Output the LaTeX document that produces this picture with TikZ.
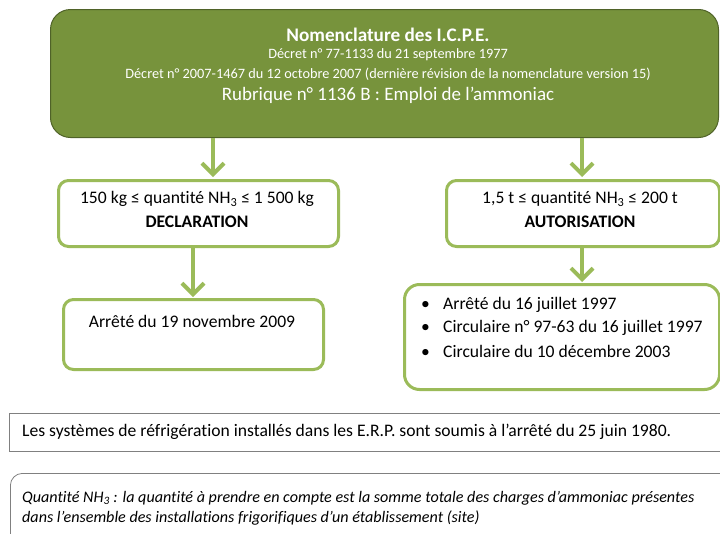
\documentclass[tikz,border=0pt]{standalone}
\usepackage{fontspec}
\setmainfont[Ligatures=NoCommon]{Carlito}
\usetikzlibrary{arrows.meta}
\definecolor{olive}{HTML}{77933C}
\definecolor{olivedark}{HTML}{4F6228}
\definecolor{lgreen}{HTML}{9BBB59}
\definecolor{greyb}{HTML}{808080}
\tikzset{
  topbox/.style={draw=olivedark, line width=1pt, fill=olive, rounded corners=20pt, inner sep=0pt, anchor=north west},
  gbox/.style={draw=lgreen, line width=3pt, fill=white, rounded corners=10pt, inner sep=0pt, anchor=north west},
  arr/.style={draw=lgreen, line width=4pt, -{Straight Barb[length=11pt,width=22pt,line width=4pt]}},
  notebox/.style={draw=greyb, line width=0.8pt, inner sep=0pt, anchor=north west},
  txt/.style={inner sep=0pt, font=\fontsize{17.6}{21}\selectfont},
  wtxt/.style={inner sep=0pt, text=white},
}
\newcommand{\bul}{\makebox[23pt][l]{\hspace{1pt}•}}
\begin{document}
\begin{tikzpicture}[x=1pt,y=-1pt]
\useasboundingbox (0,0) rectangle (720,533);
% top box
\node[topbox, minimum width=668pt, minimum height=128pt] (g) at (50,9) {};
\node[wtxt, font=\fontsize{19.2}{22}\selectfont\bfseries] (t1) at (388,35) {Nomenclature des I.C.P.E.};
\node[wtxt, font=\fontsize{14.3}{17}\selectfont] (t2) at (388,55) {Décret n° 77-1133 du 21 septembre 1977};
\node[wtxt, font=\fontsize{14.3}{17}\selectfont] (t3) at (388,74) {Décret n° 2007-1467 du 12 octobre 2007 (dernière révision de la nomenclature version 15)};
\node[wtxt, font=\fontsize{19}{22}\selectfont] (t4) at (388,95) {Rubrique n° 1136 B : Emploi de l’ammoniac};
% second row
\node[gbox, minimum width=280pt, minimum height=66pt] (d) at (57,179) {};
\node[txt] (d1) at (197,199) {150 kg ≤ quantité NH\textsubscript{3} ≤ 1 500 kg};
\node[txt, font=\fontsize{17.6}{21}\selectfont\bfseries] (d2) at (197,222) {DECLARATION};
\node[gbox, minimum width=273pt, minimum height=66pt] (a) at (445,179) {};
\node[txt] (a1) at (580,199) {1,5 t ≤ quantité NH\textsubscript{3} ≤ 200 t};
\node[txt, font=\fontsize{17.6}{21}\selectfont\bfseries] (a2) at (580,222) {AUTORISATION};
% third row
\node[gbox, minimum width=260pt, minimum height=70pt] (dl) at (62,298) {};
\node[txt] (dl1) at (192,321) {Arrêté du 19 novembre 2009};
\node[gbox, rounded corners=15pt, minimum width=315pt, minimum height=105pt] (al) at (403,283) {};
\node[txt, anchor=west] (b1) at (420,305) {\bul Arrêté du 16 juillet 1997};
\node[txt, anchor=west] (b2) at (420,328) {\bul Circulaire n° 97-63 du 16 juillet 1997};
\node[txt, anchor=west] (b3) at (420,351) {\bul Circulaire du 10 décembre 2003};
% arrows
\coordinate (xa) at (213,0);
\coordinate (xb) at (582,0);
\coordinate (xc) at (193,0);
\draw[arr] (g.south -| xa) -- ([yshift=2pt]d.north -| xa);
\draw[arr] (g.south -| xb) -- ([yshift=2pt]a.north -| xb);
\draw[arr] (d.south -| xc) -- ([yshift=1pt]dl.north -| xc);
\draw[arr] (a.south -| xb) -- ([yshift=1pt]al.north -| xb);
% notes
\node[notebox, minimum width=720pt, minimum height=38pt] (n1) at (9,413) {};
\node[txt, anchor=west] (n1t) at (22,432) {Les systèmes de réfrigération installés dans les E.R.P. sont soumis à l’arrêté du 25 juin 1980.};
\node[notebox, rounded corners=12pt, minimum width=730pt, minimum height=80pt] (n2) at (10,473) {};
\node[txt, anchor=west, font=\fontsize{16.1}{19}\selectfont\itshape] (n2a) at (22,498) {Quantité NH\textsubscript{3} : la quantité à prendre en compte est la somme totale des charges d’ammoniac présentes};
\node[txt, anchor=west, font=\fontsize{16.1}{19}\selectfont\itshape] (n2b) at (22,518) {dans l’ensemble des installations frigorifiques d’un établissement (site)};
\end{tikzpicture}
\end{document}
